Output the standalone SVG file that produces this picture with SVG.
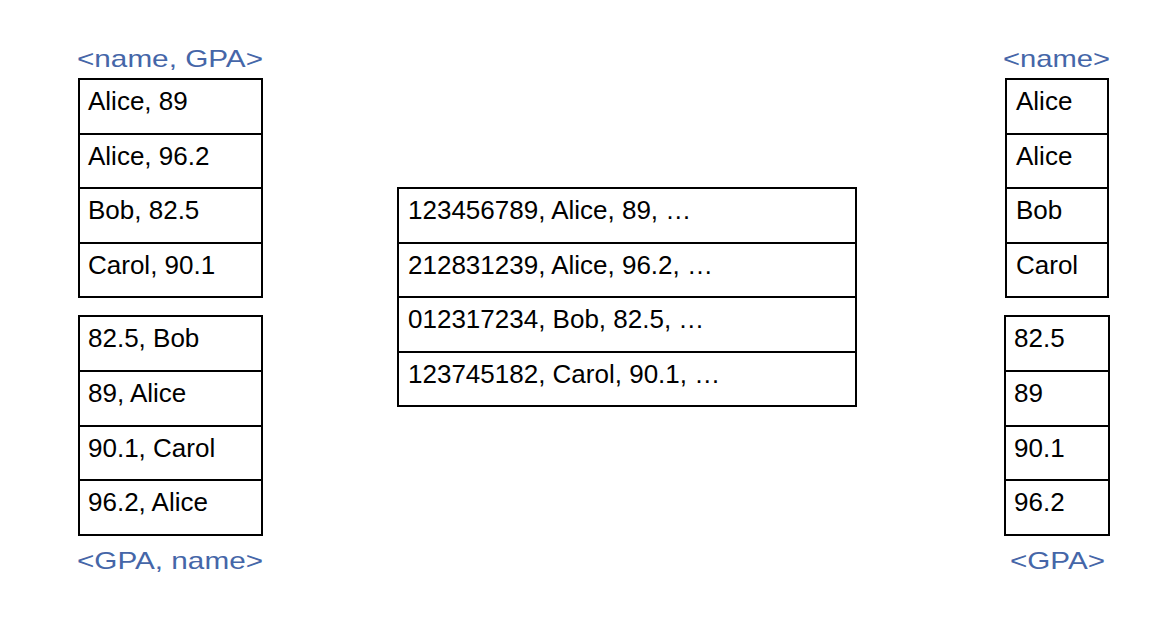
<svg xmlns="http://www.w3.org/2000/svg" width="1168" height="626" viewBox="0 0 1168 626">
<style>
.box{fill:#fff;stroke:#000;stroke-width:2}
.sep{stroke:#000;stroke-width:2}
.cell{font-family:"Liberation Sans",Arial,sans-serif;font-size:26px;fill:#000}
.lbl{font-family:"Liberation Sans",Arial,sans-serif;font-size:24px;fill:#4566a8}
</style>
<rect width="1168" height="626" fill="#fff"/>
<g id="idx-name-gpa">
<rect class="box" x="79" y="79" width="183" height="218"/>
<line class="sep" x1="79" y1="134" x2="262" y2="134"/>
<line class="sep" x1="79" y1="188" x2="262" y2="188"/>
<line class="sep" x1="79" y1="243" x2="262" y2="243"/>
<text class="cell" x="88" y="110">Alice, 89</text>
<text class="cell" x="88" y="165">Alice, 96.2</text>
<text class="cell" x="88" y="219">Bob, 82.5</text>
<text class="cell" x="88" y="274">Carol, 90.1</text>
<text class="lbl" x="77" y="67" textLength="186" lengthAdjust="spacingAndGlyphs">&lt;name, GPA&gt;</text>
</g>
<g id="idx-gpa-name">
<rect class="box" x="79" y="316" width="183" height="219"/>
<line class="sep" x1="79" y1="371" x2="262" y2="371"/>
<line class="sep" x1="79" y1="426" x2="262" y2="426"/>
<line class="sep" x1="79" y1="480" x2="262" y2="480"/>
<text class="cell" x="88" y="347">82.5, Bob</text>
<text class="cell" x="88" y="402">89, Alice</text>
<text class="cell" x="88" y="457">90.1, Carol</text>
<text class="cell" x="88" y="511">96.2, Alice</text>
<text class="lbl" x="77" y="569" textLength="186" lengthAdjust="spacingAndGlyphs">&lt;GPA, name&gt;</text>
</g>
<g id="table">
<rect class="box" x="398" y="188" width="458" height="218"/>
<line class="sep" x1="398" y1="243" x2="856" y2="243"/>
<line class="sep" x1="398" y1="297" x2="856" y2="297"/>
<line class="sep" x1="398" y1="352" x2="856" y2="352"/>
<text class="cell" x="408" y="219">123456789, Alice, 89, …</text>
<text class="cell" x="408" y="274">212831239, Alice, 96.2, …</text>
<text class="cell" x="408" y="328">012317234, Bob, 82.5, …</text>
<text class="cell" x="408" y="383">123745182, Carol, 90.1, …</text>
</g>
<g id="idx-name">
<rect class="box" x="1006" y="79" width="102" height="218"/>
<line class="sep" x1="1006" y1="134" x2="1108" y2="134"/>
<line class="sep" x1="1006" y1="188" x2="1108" y2="188"/>
<line class="sep" x1="1006" y1="243" x2="1108" y2="243"/>
<text class="cell" x="1016" y="110">Alice</text>
<text class="cell" x="1016" y="165">Alice</text>
<text class="cell" x="1016" y="219">Bob</text>
<text class="cell" x="1016" y="274">Carol</text>
<text class="lbl" x="1003" y="67" textLength="107" lengthAdjust="spacingAndGlyphs">&lt;name&gt;</text>
</g>
<g id="idx-gpa">
<rect class="box" x="1005" y="316" width="104" height="219"/>
<line class="sep" x1="1005" y1="371" x2="1109" y2="371"/>
<line class="sep" x1="1005" y1="426" x2="1109" y2="426"/>
<line class="sep" x1="1005" y1="480" x2="1109" y2="480"/>
<text class="cell" x="1014" y="347">82.5</text>
<text class="cell" x="1014" y="402">89</text>
<text class="cell" x="1014" y="457">90.1</text>
<text class="cell" x="1014" y="511">96.2</text>
<text class="lbl" x="1010" y="569" textLength="95" lengthAdjust="spacingAndGlyphs">&lt;GPA&gt;</text>
</g>
<g id="connectors"></g>
</svg>
